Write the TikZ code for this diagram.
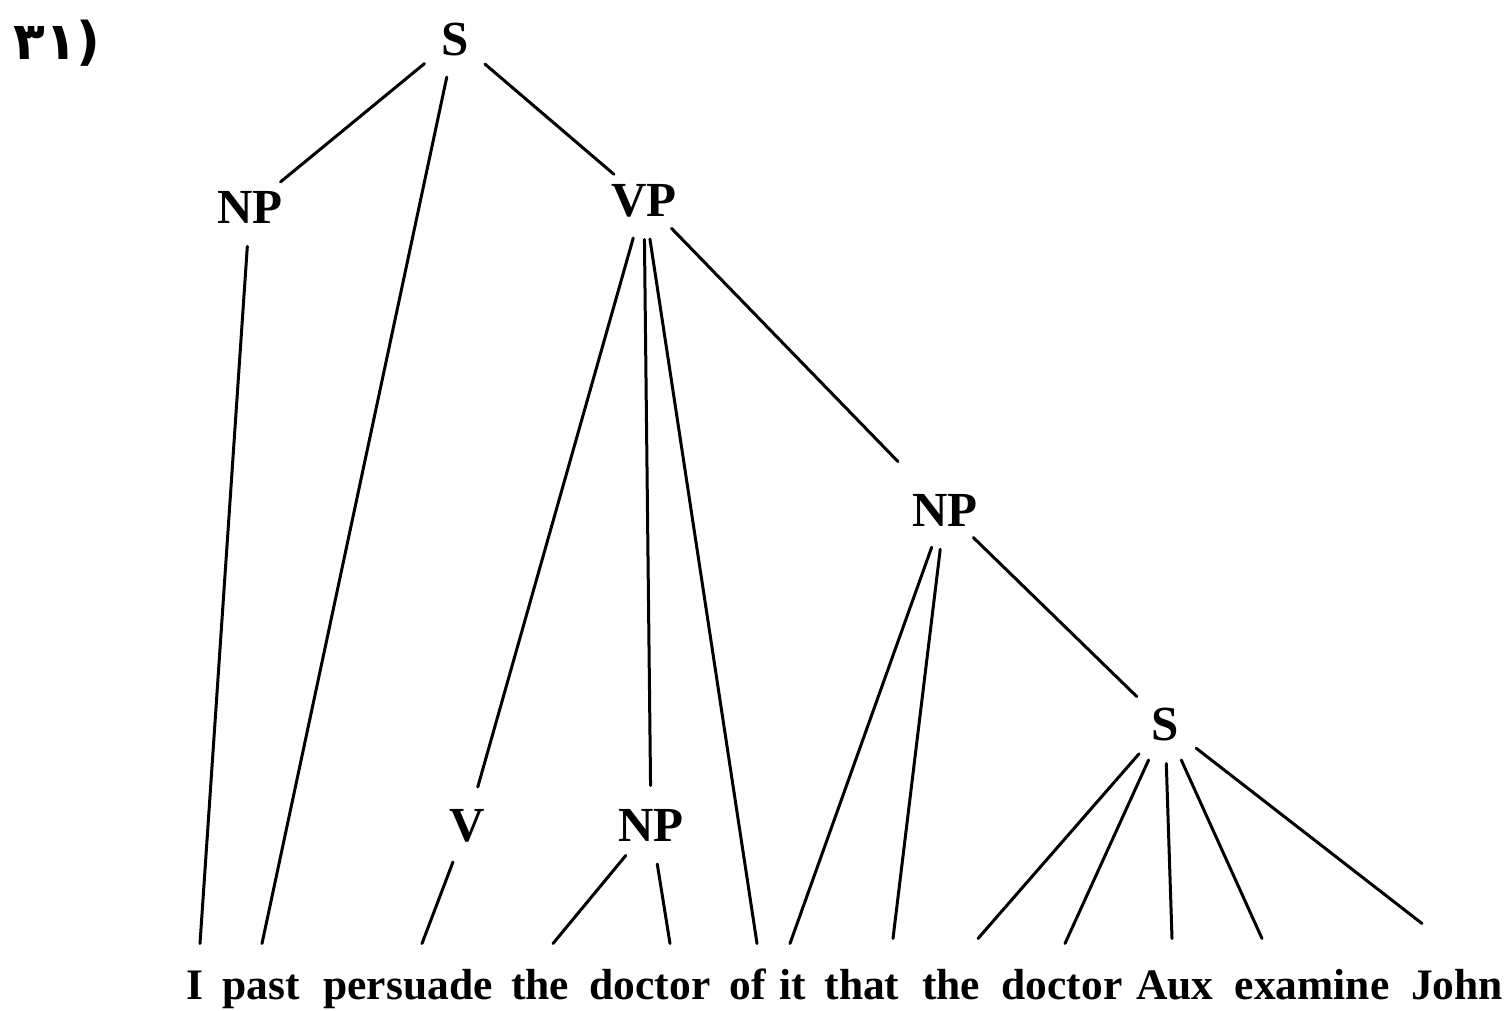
\documentclass[tikz,border=0pt]{standalone}
\usepackage{fontspec}
\setmainfont{Liberation Serif}
\newfontfamily\persfont{DejaVu Sans}
\usepackage{tikz}
\newcommand\lblfont{\fontsize{49}{49}\selectfont\bfseries}
\newcommand\wrdfont{\fontsize{43.5}{43.5}\selectfont\bfseries}

\begin{document}
\begin{tikzpicture}[x=1pt,y=-1pt,line width=3pt,line cap=round,
  lbl/.style={circle,inner sep=0pt,minimum size=76pt,font=\lblfont,text height=33pt,text depth=0pt},
  wrd/.style={anchor=base,font=\wrdfont,inner xsep=0pt,inner ysep=24pt,text height=30pt,text depth=9pt}]
\useasboundingbox (0,0) rectangle (1509,1010);
\node[font=\persfont\bfseries\fontsize{52}{52}\selectfont] (num) at (57,43) {۳۱)};
% categories
\node[lbl] (S1) at (455,38.5) {S};
\node[lbl] (NP1) at (250,207) {NP};
\node[lbl] (VP) at (644,200) {VP};
\node[lbl] (NP2) at (945,510) {NP};
\node[lbl] (S2) at (1165,724) {S};
\node[lbl] (V) at (467,825) {V};
\node[lbl] (NP3) at (651,825) {NP};
% terminal string
\node[wrd] (w1) at (195,999) {I};
\node[wrd] (w2) at (261,999) {past};
\node[wrd] (w3) at (408,999) {persuade};
\node[wrd] (w4) at (540,999) {the};
\node[wrd] (w5) at (650,999) {doctor};
\node[wrd] (w6) at (748,999) {of};
\node[wrd] (w7) at (793,999) {it};
\node[wrd] (w8) at (862,999) {that};
\node[wrd] (w9) at (951,999) {the};
\node[wrd] (w10) at (1062,999) {doctor};
\node[wrd] (w11) at (1175,999) {Aux};
\node[wrd] (w12) at (1312,999) {examine};
\node[wrd] (w13) at (1457,999) {John};
% branches
\draw (S1) -- (NP1);
\draw (S1) -- ([xshift=1pt]w2.north);
\draw (S1) -- (VP);
\draw (NP1) -- ([xshift=5pt]w1.north);
\draw (VP) -- (V);
\draw (VP) -- (NP3);
\draw (VP) -- ([xshift=9pt]w6.north);
\draw[shorten >=28pt] (VP) -- (NP2);
\draw (V) -- ([xshift=14pt]w3.north);
\draw (NP3) -- ([xshift=13pt]w4.north);
\draw (NP3) -- ([xshift=20pt]w5.north);
\draw (NP2) -- ([xshift=-3pt]w7.north);
\draw (NP2) -- ([xshift=31pt,yshift=5pt]w8.north);
\draw (NP2) -- (S2);
\draw (S2) -- ([xshift=27pt,yshift=5pt]w9.north);
\draw (S2) -- ([xshift=3pt]w10.north);
\draw (S2) -- ([xshift=-3pt,yshift=5pt]w11.north);
\draw (S2) -- ([xshift=-50pt,yshift=5pt]w12.north);
\draw (S2) -- ([xshift=-35pt,yshift=20pt]w13.north);
\end{tikzpicture}
\end{document}
